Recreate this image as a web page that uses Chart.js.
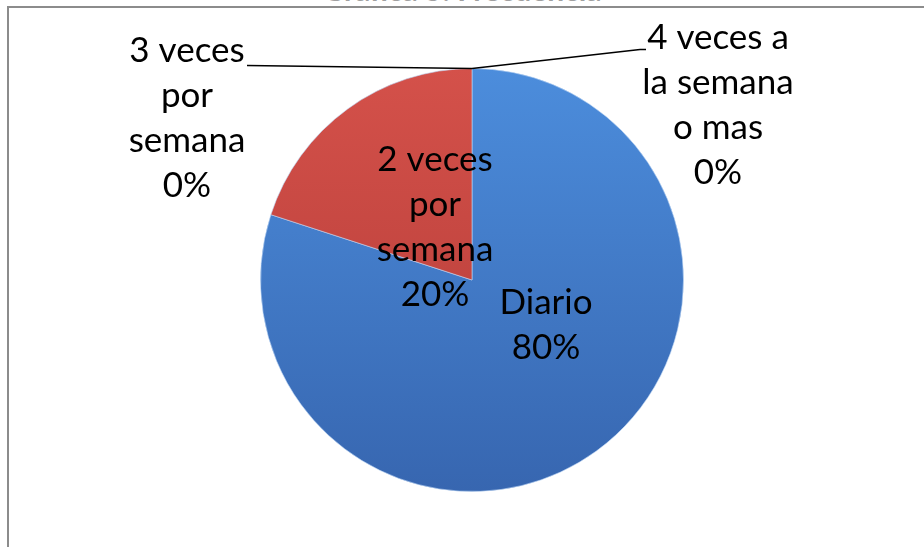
<!DOCTYPE html>
<html>
<head>
<meta charset="utf-8">
<script src="https://cdn.jsdelivr.net/npm/chart.js@4"></script>
<style>
  html, body { margin: 0; padding: 0; background: #fff; overflow: hidden; }
  #wrap { position: relative; width: 924px; height: 547px; }
  #title {
    position: absolute; left: 0; width: 924px; top: -29px; text-align: center;
    font: bold 30px Lato, sans-serif; color: #a0a0a0;
  }
  #frame {
    position: absolute; left: 7px; top: 6px; width: 940px; height: 560px;
    border-left: 2px solid #8c8c8c; border-top: 2px solid #8c8c8c;
  }
  #chart { position: absolute; left: 0; top: 0; }
</style>
</head>
<body>
<div id="wrap">
  <div id="title">Gráfica 5: Frecuencia</div>
  <div id="frame"></div>
  <canvas id="chart" width="924" height="547"></canvas>
</div>
<script>
// === datos ===
const categories = ['Diario', '2 veces por semana', '3 veces por semana', '4 veces a la semana o mas'];
const percentages = [80, 20, 0, 0];
// nombre partido en líneas como en la gráfica original
const labelLines = [
    ['Diario'],
    ['2 veces', 'por', 'semana'],
    ['3 veces', 'por', 'semana'],
    ['4 veces a', 'la semana', 'o mas'],
];

// posición de cada etiqueta respecto al centro del pastel (o a la punta de la rebanada si vale 0)
const labelPlacement = [
    { dx: 74, dy: 45 },
    { dx: -37, dy: -53 },
    { dx: -285, dy: 50, leader: 'left' },
    { dx: 246, dy: 37, leader: 'right' },
];

const LINE_H = 45;

function sliceGradient(ctx, light, dark) {
    const area = ctx.chart.chartArea;
    if (!area) return dark;
    const g = ctx.chart.ctx.createLinearGradient(0, area.top, 0, area.bottom);
    g.addColorStop(0, light);
    g.addColorStop(1, dark);
    return g;
}

const pieLabels = {
    id: 'pieLabels',
    afterDatasetsDraw(chart) {
        const ctx = chart.ctx;
        const arcs = chart.getDatasetMeta(0).data;
        ctx.save();
        ctx.font = '35px Lato, sans-serif';
        ctx.fillStyle = '#000';
        ctx.textAlign = 'center';
        ctx.textBaseline = 'middle';
        arcs.forEach((arc, i) => {
            const p = labelPlacement[i];
            const lines = labelLines[i].concat([percentages[i] + '%']);
            let bx = arc.x + p.dx;
            let by = arc.y + p.dy;
            if (p.leader) {
                // rebanadas en 0: anclar a la punta superior del pastel
                const tipX = arc.x + Math.cos(arc.startAngle) * arc.outerRadius;
                const tipY = arc.y + Math.sin(arc.startAngle) * arc.outerRadius;
                bx = tipX + p.dx;
                by = tipY + p.dy;
                ctx.beginPath();
                ctx.strokeStyle = '#000';
                ctx.lineWidth = 1.5;
                ctx.moveTo(tipX, tipY);
                if (p.leader === 'left') {
                    ctx.lineTo(tipX - 225, tipY - 3);
                } else {
                    ctx.lineTo(tipX + 168, tipY - 19);
                    ctx.lineTo(tipX + 174, tipY - 19);
                }
                ctx.stroke();
            }
            const top = by - (lines.length - 1) * LINE_H / 2;
            lines.forEach((t, k) => ctx.fillText(t, bx, top + k * LINE_H));
        });
        ctx.restore();
    }
};

new Chart(document.getElementById('chart'), {
    type: 'pie',
    data: {
        labels: categories,
        datasets: [{
            data: percentages,
            backgroundColor: function(context) {
                const i = context.dataIndex;
                if (i === 1) return sliceGradient(context, '#d4514a', '#b23a36');
                return sliceGradient(context, '#4c8ddc', '#3766b0');
            },
            borderColor: 'rgba(190, 215, 245, 0.6)',
            borderWidth: 1,
        }]
    },
    options: {
        responsive: false,
        animation: false,
        rotation: 0,
        layout: { padding: { top: 68, bottom: 55, left: 20, right: 0 } },
        plugins: {
            legend: { display: false },
            tooltip: { enabled: false },
        },
    },
    plugins: [pieLabels]
});
</script>
</body>
</html>
